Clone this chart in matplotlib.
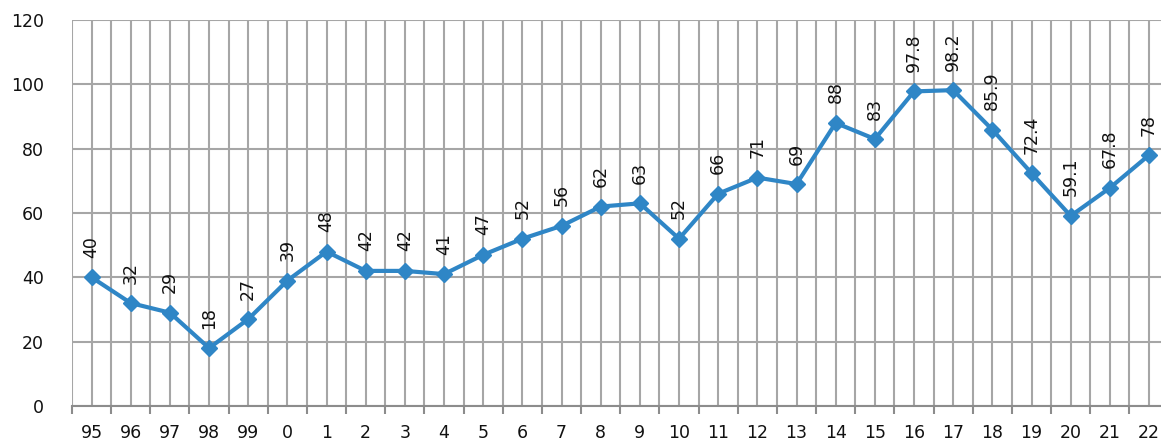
import numpy as np
import matplotlib
matplotlib.use("Agg")
import matplotlib.pyplot as plt
from matplotlib.ticker import MultipleLocator, FixedLocator

years = ["95", "96", "97", "98", "99", "0", "1", "2", "3", "4", "5", "6", "7", "8",
         "9", "10", "11", "12", "13", "14", "15", "16", "17", "18", "19", "20", "21", "22"]
values = [40, 32, 29, 18, 27, 39, 48, 42, 42, 41, 47, 52, 56, 62, 63, 52, 66, 71,
          69, 88, 83, 97.8, 98.2, 85.9, 72.4, 59.1, 67.8, 78]
labels = ["40", "32", "29", "18", "27", "39", "48", "42", "42", "41", "47", "52", "56", "62",
          "63", "52", "66", "71", "69", "88", "83", "97.8", "98.2", "85.9", "72.4", "59.1", "67.8", "78"]

line_color = "#2f86c6"
grid_color = "#a6a6a6"

fig = plt.figure(figsize=(11.61, 4.45), dpi=100)
# axes runs a little past the right edge, like the cropped original
ax = fig.add_axes([72 / 1161, 39 / 445, (1168.6 - 72) / 1161, 386 / 445])

x = np.arange(len(years))
ax.plot(x, values, color=line_color, lw=3, marker="D", ms=8, zorder=3)

for xi, v, lab in zip(x, values, labels):
    ax.annotate(lab, (xi, v), xytext=(0, 14), textcoords="offset points",
                rotation=90, ha="center", va="bottom", fontsize=12.5, color="#111111")

ax.set_xlim(-0.5, len(years) - 0.5)
ax.set_ylim(0, 120)
ax.yaxis.set_major_locator(MultipleLocator(20))
ax.set_xticks(x)
ax.set_xticklabels(years)
ax.xaxis.set_minor_locator(FixedLocator(np.arange(-0.5, len(years), 1)))

ax.grid(True, which="major", axis="both", color=grid_color, lw=1.5)
ax.grid(True, which="minor", axis="x", color=grid_color, lw=1.5)
ax.set_axisbelow(True)

for s in ["top", "right", "left"]:
    ax.spines[s].set_visible(False)
ax.spines["bottom"].set_color("#8c8c8c")
ax.spines["bottom"].set_linewidth(1.5)

ax.tick_params(axis="x", which="major", length=0, pad=13, labelsize=12.5, labelcolor="#111111")
ax.tick_params(axis="x", which="minor", length=6, width=1.5, color="#8c8c8c")
ax.tick_params(axis="y", length=0, pad=20, labelsize=12.5, labelcolor="#111111")

fig.savefig("out.png", dpi=100)
